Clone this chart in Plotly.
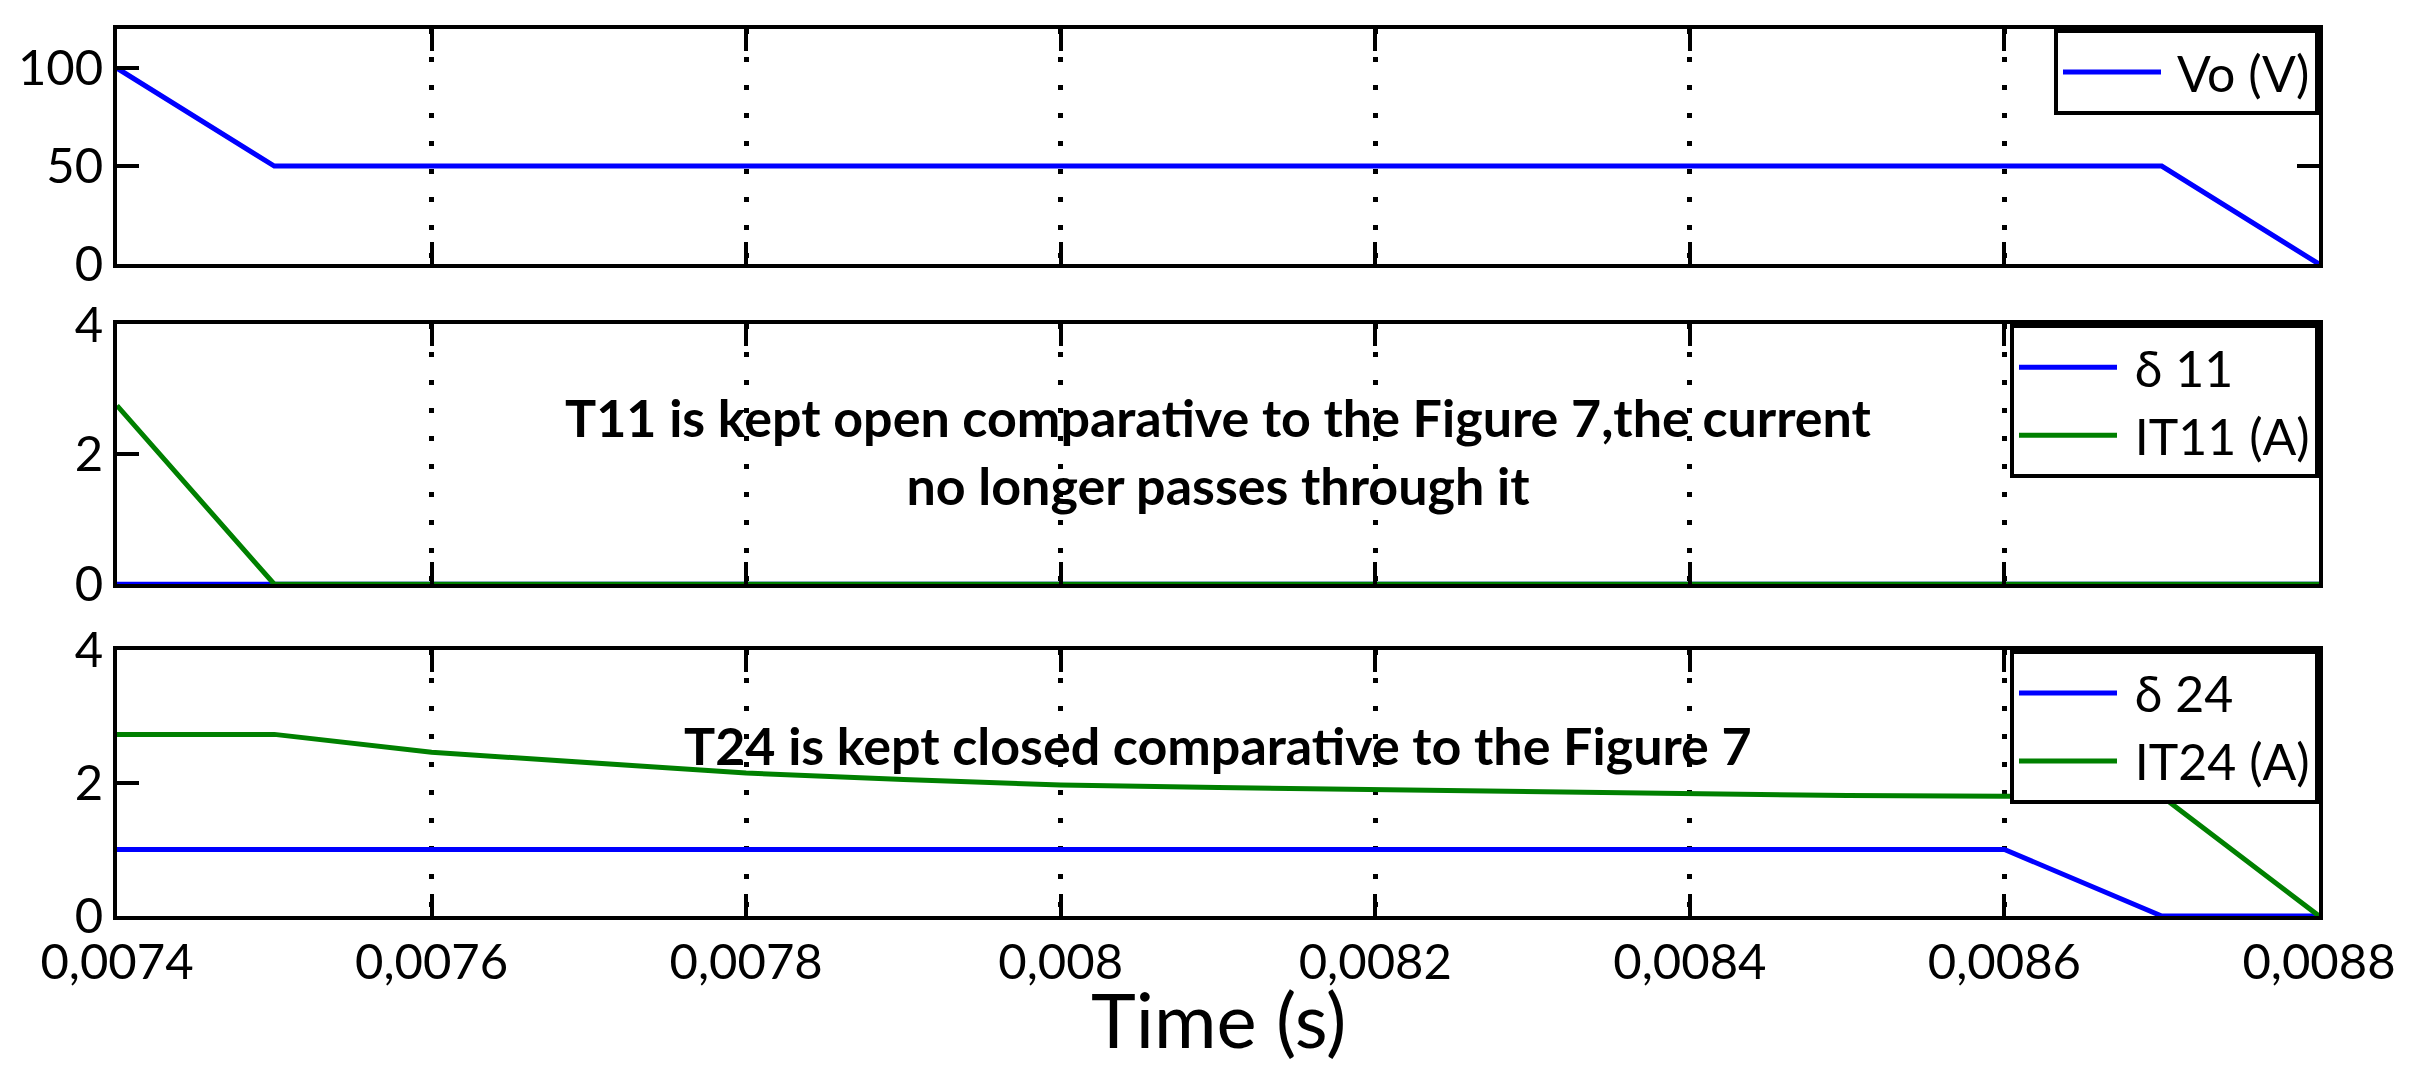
"""Three stacked MATLAB-style panels: Vo, T11 and T24 switching signals."""

import plotly.graph_objects as go

FONT = "Lato, 'Noto Sans', 'DejaVu Sans', sans-serif"
BLUE = "#0000FF"
GREEN = "#008000"

TIME_S = [0.0074, 0.0075, 0.0076, 0.0077, 0.0078, 0.0079, 0.0080, 0.0081,
          0.0082, 0.0083, 0.0084, 0.0085, 0.0086, 0.0087, 0.0088]
VO_V = [100, 50, 50, 50, 50, 50, 50, 50, 50, 50, 50, 50, 50, 50, 0]
DELTA_11 = [0, 0, 0, 0, 0, 0, 0, 0, 0, 0, 0, 0, 0, 0, 0]
IT11_A = [2.75, 0, 0, 0, 0, 0, 0, 0, 0, 0, 0, 0, 0, 0, 0]
DELTA_24 = [1, 1, 1, 1, 1, 1, 1, 1, 1, 1, 1, 1, 1, 0, 0]
IT24_A = [2.73, 2.73, 2.46, 2.30, 2.15, 2.05, 1.97, 1.93,
          1.90, 1.86, 1.83, 1.81, 1.80, 1.80, 0]

X_TICKS = [0.0074, 0.0076, 0.0078, 0.0080, 0.0082, 0.0084, 0.0086, 0.0088]
X_TICK_LABELS = ["0,0074", "0,0076", "0,0078", "0,008",
                 "0,0082", "0,0084", "0,0086", "0,0088"]
VO_TICKS = [0, 50, 100]
CURRENT_TICKS = [0, 2, 4]

NOTE_T11 = "T11 is kept open comparative to the Figure 7,the current<br>no longer passes through it"
NOTE_T24 = "T24 is kept closed comparative to the Figure 7"
X_TITLE = "Time (s)"

# panel domains in paper coordinates (top, middle, bottom)
DOMAINS = [[0.735, 1.0], [0.374, 0.667], [0.0, 0.300]]
NBSP = "\u00a0"


def _xaxis(anchor, show_labels):
    return dict(
        anchor=anchor, domain=[0, 1], range=[X_TICKS[0], X_TICKS[-1]],
        tickvals=X_TICKS, ticktext=X_TICK_LABELS, showticklabels=show_labels,
        ticks="inside", ticklen=22, tickwidth=4, tickcolor="black",
        showline=True, linewidth=4, linecolor="black", mirror="ticks",
        showgrid=True, gridcolor="black", gridwidth=5, griddash="5px,23px",
        zeroline=False, ticklabelstandoff=0, automargin=False,
        tickfont=dict(family=FONT, size=49, color="black"),
    )


def _yaxis(anchor, domain, rng, ticks):
    return dict(
        anchor=anchor, domain=domain, range=rng, tickvals=ticks,
        ticks="inside", ticklen=22, tickwidth=4, tickcolor="black",
        showline=True, linewidth=4, linecolor="black", mirror="ticks",
        showgrid=False, zeroline=False, ticklabelstandoff=0, automargin=False,
        tickfont=dict(family=FONT, size=49, color="black"),
    )


def _legend(top):
    return dict(
        x=1, xanchor="right", y=top, yanchor="top",
        bgcolor="white", bordercolor="black", borderwidth=4,
        font=dict(family=FONT, size=50, color="black"),
        itemwidth=98, tracegroupgap=0,
    )


fig = go.Figure()
series = [
    ("Vo (V)", VO_V, BLUE, "x", "y", "legend"),
    ("δ 11", DELTA_11, BLUE, "x2", "y2", "legend2"),
    ("IT11 (A)", IT11_A, GREEN, "x2", "y2", "legend2"),
    ("δ 24", DELTA_24, BLUE, "x3", "y3", "legend3"),
    ("IT24 (A)", IT24_A, GREEN, "x3", "y3", "legend3"),
]
for name, values, color, xa, ya, leg in series:
    fig.add_trace(go.Scatter(
        x=TIME_S, y=values, mode="lines", name=NBSP + name,
        line=dict(color=color, width=5),
        xaxis=xa, yaxis=ya, legend=leg,
    ))

fig.update_layout(
    width=2414, height=1067,
    margin=dict(l=109, r=103, t=21, b=159, autoexpand=False),
    paper_bgcolor="white", plot_bgcolor="white",
    font=dict(family=FONT, color="black"),
    showlegend=True,
    xaxis=_xaxis("y", False),
    xaxis2=_xaxis("y2", False),
    xaxis3=_xaxis("y3", True),
    yaxis=_yaxis("x", DOMAINS[0], [0, 120], VO_TICKS),
    yaxis2=_yaxis("x2", DOMAINS[1], [0, 4], CURRENT_TICKS),
    yaxis3=_yaxis("x3", DOMAINS[2], [0, 4], CURRENT_TICKS),
    legend=_legend(DOMAINS[0][1]),
    legend2=_legend(DOMAINS[1][1]),
    legend3=_legend(DOMAINS[2][1]),
)

fig.add_annotation(text=X_TITLE, xref="paper", x=0.5, yref="paper", y=-0.115,
                   showarrow=False, yanchor="middle",
                   font=dict(family=FONT, size=76, color="black"))
fig.add_annotation(text=NOTE_T11, xref="paper", x=0.5, yref="y2", y=2.05,
                   showarrow=False, yanchor="middle",
                   font=dict(family=FONT, size=52, color="black", weight="bold"))
fig.add_annotation(text=NOTE_T24, xref="paper", x=0.5, yref="y3", y=2.57,
                   showarrow=False, yanchor="middle",
                   font=dict(family=FONT, size=52, color="black", weight="bold"))

fig.write_html("out.html")
